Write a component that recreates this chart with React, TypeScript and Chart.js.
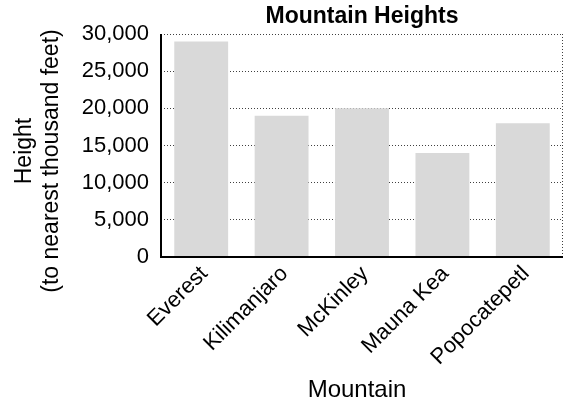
import React, { useEffect, useRef } from "react";
import { Chart, registerables } from "chart.js";

Chart.register(...registerables);

const mountains = ["Everest", "Kilimanjaro", "McKinley", "Mauna Kea", "Popocatepetl"];
const heights = [29000, 19000, 20000, 14000, 18000];
const yTicks = [0, 5000, 10000, 15000, 20000, 25000, 30000];

const chartTitle = "Mountain Heights";
const xTitle = "Mountain";
const yTitle = ["Height", "(to nearest thousand feet)"];

const FONT = "'Liberation Sans', Arial, Helvetica, sans-serif";
const DOT = "rgba(0,0,0,0.75)";

// Solid left/bottom axes, a dotted right edge, and the axis titles
const framePlugin = {
  id: "frameAndTitles",
  afterDraw(chart: any) {
    const { ctx, chartArea } = chart;
    const left = Math.round(chartArea.left);
    const right = Math.round(chartArea.right);
    const top = Math.round(chartArea.top);
    const bottom = Math.round(chartArea.bottom);
    ctx.save();

    // dotted right edge
    ctx.fillStyle = DOT;
    for (let y = top; y <= bottom; y += 3) {
      ctx.fillRect(right - 1, y, 1, 1);
    }

    // solid axes
    ctx.fillStyle = "#000";
    ctx.fillRect(left - 1, top, 2, bottom - top + 1);
    ctx.fillRect(left - 1, bottom - 1, right - left + 1, 2);

    // x-axis title
    ctx.font = `24px ${FONT}`;
    ctx.textAlign = "center";
    ctx.textBaseline = "alphabetic";
    ctx.fillText(xTitle, (left + right) / 2 - 5, 397);

    // y-axis title, two rotated lines
    ctx.font = `23px ${FONT}`;
    ctx.translate(0, 155);
    ctx.rotate(-Math.PI / 2);
    ctx.fillText(yTitle[0], 4, 31);
    ctx.fillText(yTitle[1], -6, 58);
    ctx.restore();
  },
};

export default function App() {
  const canvasRef = useRef<HTMLCanvasElement | null>(null);

  useEffect(() => {
    const canvas = canvasRef.current;
    if (!canvas) return;
    const chart = new Chart(canvas, {
      type: "bar",
      data: {
        labels: mountains,
        datasets: [
          {
            data: heights,
            backgroundColor: "#d9d9d9",
            borderWidth: 0,
            barPercentage: 0.67,
            categoryPercentage: 1,
          },
        ],
      },
      options: {
        responsive: false,
        animation: false,
        devicePixelRatio: 1,
        layout: { padding: { left: 0, right: 4, top: 0, bottom: 0 } },
        plugins: {
          legend: { display: false },
          tooltip: { enabled: false },
          title: {
            display: true,
            text: chartTitle,
            fullSize: false,
            color: "#000",
            font: { family: FONT, size: 23, weight: "bold" },
            padding: { top: 2.5, bottom: 3.9 },
          },
        },
        scales: {
          x: {
            grid: { display: false, drawTicks: false },
            border: { display: false },
            ticks: {
              color: "#000",
              font: { family: FONT, size: 22 },
              minRotation: 45,
              maxRotation: 45,
              autoSkip: false,
              padding: 4,
              labelOffset: 3,
            },
            afterFit(scale: any) {
              scale.height = 145;
            },
          },
          y: {
            min: yTicks[0],
            max: yTicks[yTicks.length - 1],
            grid: { display: true, drawTicks: false, color: DOT, lineWidth: 1 },
            border: { display: false, dash: [1, 2] },
            ticks: {
              stepSize: yTicks[1] - yTicks[0],
              color: "#000",
              font: { family: FONT, size: 22 },
              padding: 12,
              callback: (v: any) => Number(v).toLocaleString("en-US"),
            },
            afterFit(scale: any) {
              scale.width = 161;
            },
          },
        },
      },
      plugins: [framePlugin],
    } as any);
    return () => chart.destroy();
  }, []);

  return (
    <div style={{ position: "absolute", left: 0, top: 0, width: 567, height: 402 }}>
      <canvas ref={canvasRef} width={567} height={402} />
    </div>
  );
}
